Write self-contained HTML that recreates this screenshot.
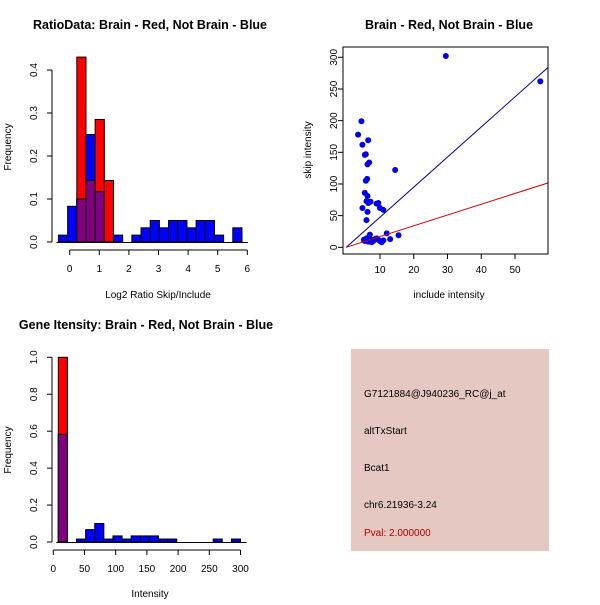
<!DOCTYPE html>
<html><head><meta charset="utf-8"><style>
html,body{margin:0;padding:0;background:#fff;}
svg text{font-family:"Liberation Sans",sans-serif;}
</style></head><body>
<svg id="c" width="600" height="600" xmlns="http://www.w3.org/2000/svg">
<rect x="0" y="0" width="600" height="600" fill="#fff"/>
<text x="150" y="29" text-anchor="middle" font-size="12.5" font-weight="bold">RatioData: Brain - Red, Not Brain - Blue</text>
<text x="449" y="29" text-anchor="middle" font-size="12.5" font-weight="bold">Brain - Red, Not Brain - Blue</text>
<text x="146" y="329" text-anchor="middle" font-size="12.5" font-weight="bold">Gene Itensity: Brain - Red, Not Brain - Blue</text>
<text x="158" y="298" text-anchor="middle" font-size="10">Log2 Ratio Skip/Include</text>
<text x="11" y="147" text-anchor="middle" font-size="10" transform="rotate(-90 11 147)">Frequency</text>
<text x="449" y="298" text-anchor="middle" font-size="10">include intensity</text>
<text x="311" y="150" text-anchor="middle" font-size="10" transform="rotate(-90 311 150)">skip intensity</text>
<text x="150" y="597" text-anchor="middle" font-size="10">Intensity</text>
<text x="11" y="450" text-anchor="middle" font-size="10" transform="rotate(-90 11 450)">Frequency</text>
<g>
<rect x="351" y="349" width="198" height="202" fill="#E6C8C2"/>
<text x="364" y="397" font-size="10">G7121884@J940236_RC@j_at</text>
<text x="364" y="434" font-size="10">altTxStart</text>
<text x="364" y="471" font-size="10">Bcat1</text>
<text x="364" y="508" font-size="10">chr6.21936-3.24</text>
<text x="364" y="536" font-size="10" fill="#B00000">Pval: 2.000000</text>
</g>
<g id="p1"></g><g id="p2"></g><g id="p3"></g>
</svg>
<script>
// Ratio histogram data
const ratioBinStart = -0.38, ratioBinWidth = 0.31;
const ratioBlue = [0.016,0.083,0.1,0.25,0.117,0,0.016,0,0.016,0.033,0.05,0.033,0.05,0.05,0.033,0.05,0.05,0.016,0,0.033];
const ratioRed  = [0,0,0.43,0.143,0.285,0.143,0,0,0,0,0,0,0,0,0,0,0,0,0,0];
const ratioXTicks = [0,1,2,3,4,5,6];
const ratioYTicks = ["0.0","0.1","0.2","0.3","0.4"];
// Scatter data
const scatterX = [29.5,57.5,4.5,3.5,6.5,4.8,5.5,5.8,6.8,6.3,14.5,6.2,5.8,5.5,6.3,6,6.5,7.2,9,9.5,10,11,4.8,6.3,6,12,15.5,7,13,5.5,6,6.5,7,7.5,8,8.5,9,9.5,10,10.5,11,6,7.5,5.2];
const scatterY = [302,262,199,178,169,162,146,147,134,131,122,108,105,86,81,73,70,72,69,70,62,59,62,56,43,22,19,20,13,10,12,9,11,12,10,13,14,12,10,8,11,14,8,12];
const lineSlopes = [4.75,1.7];
const scatterXTicks = [10,20,30,40,50];
const scatterYTicks = [0,50,100,150,200,250,300];
// Intensity histogram data
const intBinStart = 8, intBinWidth = 14.6;
const intBlue = [0.583,0,0.016,0.067,0.1,0.016,0.033,0.016,0.033,0.033,0.033,0.016,0.016,0,0,0,0,0.016,0,0.016];
const intRed  = [1.0,0,0,0,0,0,0,0,0,0,0,0,0,0,0,0,0,0,0,0];
const intXTicks = [0,50,100,150,200,250,300];
const intYTicks = ["0.0","0.2","0.4","0.6","0.8","1.0"];

const NS="http://www.w3.org/2000/svg";
function mk(parent,tag,attrs){const e=document.createElementNS(NS,tag);for(const k in attrs)e.setAttribute(k,attrs[k]);parent.appendChild(e);return e;}

function hist(g,start,w,blue,red,xs,ys,xTicks,yTicks,xTickY0,yTickX,prefix){
  for(let i=0;i<blue.length;i++){
    const x0=xs(start+i*w), x1=xs(start+(i+1)*w);
    const b=blue[i], r=red[i];
    if(b>0){const e=mk(g,'rect',{x:x0,y:ys(b),width:x1-x0,height:ys(0)-ys(b),fill:'#0000FF',stroke:'#000','stroke-width':1});
      
      }
    if(r>0){const e=mk(g,'rect',{x:x0,y:ys(r),width:x1-x0,height:ys(0)-ys(r),fill:'#FF0000',stroke:'#000','stroke-width':1});
      
      }
    const m=Math.min(b,r);
    if(m>0){const e=mk(g,'rect',{x:x0,y:ys(m),width:x1-x0,height:ys(0)-ys(m),fill:'#800080',stroke:'#000','stroke-width':1});
      
      }
  }
  const xa=mk(g,'g',{});
  
  
  mk(xa,'line',{x1:xs(xTicks[0]),x2:xs(xTicks[xTicks.length-1]),y1:xTickY0,y2:xTickY0,stroke:'#000'});
  xTicks.forEach(t=>{mk(xa,'line',{x1:xs(t),x2:xs(t),y1:xTickY0,y2:xTickY0+5,stroke:'#000'});
    const tx=mk(xa,'text',{x:xs(t),y:xTickY0+22,'text-anchor':'middle','font-size':10});tx.textContent=t;});
  mk(g,'line',{x1:xs(start)-2,x2:xs(start+w*blue.length)+6,y1:ys(0)+0.5,y2:ys(0)+0.5,stroke:'#000'});
  const ya=mk(g,'g',{});
  
  
  mk(ya,'line',{x1:yTickX,x2:yTickX,y1:ys(0),y2:ys(+yTicks[yTicks.length-1]),stroke:'#000'});
  yTicks.forEach(t=>{const y=ys(+t);mk(ya,'line',{x1:yTickX,x2:yTickX-5,y1:y,y2:y,stroke:'#000'});
    const bx=yTickX-15;
    const tx=mk(ya,'text',{x:bx,y:y,'text-anchor':'middle','font-size':10,transform:`rotate(-90 ${bx} ${y})`});tx.textContent=t;});
}

{const g=document.getElementById('p1');
 const xs=v=>69.7+v*29.6, ys=v=>242-v*430;
 hist(g,ratioBinStart,ratioBinWidth,ratioBlue,ratioRed,xs,ys,ratioXTicks,ratioYTicks,250,52,'ratio');}
{const g=document.getElementById('p3');
 const xs=v=>53.3+v*0.624, ys=v=>542-v*184.7;
 hist(g,intBinStart,intBinWidth,intBlue,intRed,xs,ys,intXTicks,intYTicks,550,52,'intensity');}
{const g=document.getElementById('p2');
 const xs=v=>346.25+v*3.375, ys=v=>247.3-v*0.6333;
 const clip=mk(g,'clipPath',{id:'sc'});mk(clip,'rect',{x:343,y:47,width:205,height:207});
 const pts=mk(g,'g',{});
 
 
 for(let i=0;i<scatterX.length;i++){
   const c=mk(pts,'circle',{cx:xs(scatterX[i]),cy:ys(scatterY[i]),r:3,fill:'#0000EE'});
   
   
 }
 const cols=['#00008B','#CC0000'];
 lineSlopes.forEach((s,i)=>{const l=mk(g,'line',{x1:xs(0),y1:ys(0),x2:xs(70),y2:ys(70*s),stroke:cols[i],'stroke-width':1,'clip-path':'url(#sc)'});
   
   });
 const box=mk(g,'rect',{x:343,y:47,width:205,height:207,fill:'none',stroke:'#000'});
 
 
 const xa=mk(g,'g',{});
 
 
 scatterXTicks.forEach(t=>{mk(xa,'line',{x1:xs(t),x2:xs(t),y1:254,y2:259,stroke:'#000'});
   const tx=mk(xa,'text',{x:xs(t),y:273,'text-anchor':'middle','font-size':10});tx.textContent=t;});
 const ya=mk(g,'g',{});
 
 
 scatterYTicks.forEach(t=>{const y=ys(t);mk(ya,'line',{x1:343,x2:338,y1:y,y2:y,stroke:'#000'});
   const tx=mk(ya,'text',{x:337,y:y,'text-anchor':'middle','font-size':10,transform:`rotate(-90 337 ${y})`});tx.textContent=t;});
}
</script>
</body></html>
